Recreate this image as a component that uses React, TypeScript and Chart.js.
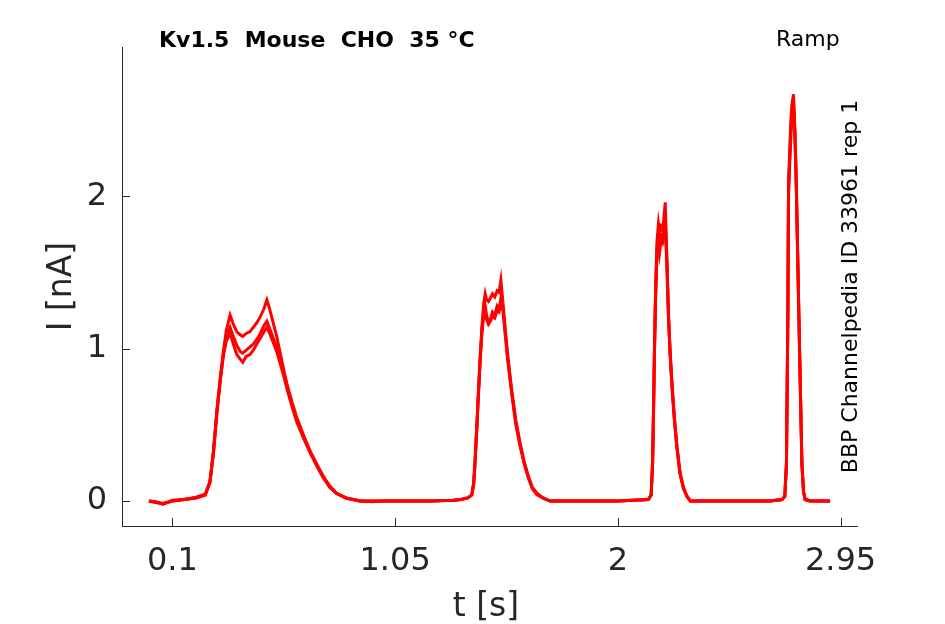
import React, { useEffect, useRef } from "react";
import { Chart, registerables } from "chart.js";

Chart.register(...registerables);

// time in seconds (shared by all sweeps)
const time = [
  0, 0.03, 0.06, 0.1, 0.15, 0.2, 0.24, 0.26, 0.275, 0.29, 0.305, 0.318, 0.33, 0.346, 0.36, 0.375, 0.39, 0.4,
  0.415, 0.43, 0.445, 0.46, 0.475, 0.49, 0.503, 0.515, 0.53, 0.545, 0.56, 0.575, 0.59, 0.61, 0.63, 0.66, 0.69,
  0.72, 0.745, 0.77, 0.8, 0.84, 0.9, 0.95, 1.0, 1.1, 1.2, 1.3, 1.33, 1.36, 1.377, 1.385, 1.391, 1.398, 1.405,
  1.413, 1.42, 1.428, 1.434, 1.44, 1.448, 1.456, 1.465, 1.475, 1.485, 1.493, 1.501, 1.51, 1.519, 1.53, 1.548,
  1.565, 1.583, 1.6, 1.619, 1.635, 1.655, 1.68, 1.711, 1.75, 1.8, 1.9, 2.0, 2.13, 2.142, 2.148, 2.152, 2.156,
  2.161, 2.167, 2.173, 2.178, 2.184, 2.19, 2.196, 2.202, 2.209, 2.216, 2.223, 2.23, 2.241, 2.252, 2.265, 2.28,
  2.295, 2.309, 2.35, 2.42, 2.5, 2.58, 2.65, 2.7, 2.712, 2.719, 2.725, 2.728, 2.738, 2.742, 2.749, 2.755,
  2.761, 2.772, 2.785, 2.792, 2.799, 2.82, 2.85, 2.88, 2.905,
];

// current in nA, three sweeps
const sweepA = [
  0, -0.01, -0.02, 0, 0.01, 0.025, 0.045, 0.13, 0.33, 0.6, 0.82, 0.99, 1.12, 1.22, 1.16, 1.11, 1.09, 1.08,
  1.1, 1.11, 1.14, 1.17, 1.21, 1.26, 1.32, 1.26, 1.17, 1.08, 0.97, 0.86, 0.76, 0.65, 0.55, 0.43, 0.32,
  0.23, 0.16, 0.1, 0.05, 0.02, 0, -0.005, 0, 0, 0, 0.005, 0.01, 0.02, 0.04, 0.12, 0.27, 0.48, 0.71,
  0.95, 1.14, 1.3, 1.36, 1.32, 1.31, 1.33, 1.36, 1.34, 1.38, 1.37, 1.45, 1.3, 1.14, 0.96, 0.72,
  0.53, 0.38, 0.26, 0.16, 0.09, 0.05, 0.02, 0, 0, 0, 0, 0, 0.01, 0.04, 0.25, 0.6, 1.01,
  1.4, 1.71, 1.82, 1.76, 1.8, 1.78, 1.85, 1.96, 1.6, 1.23, 0.98, 0.79, 0.55, 0.36, 0.19, 0.09,
  0.03, 0, 0, 0, 0, 0, 0, 0.01, 0.03, 0.25, 1.23, 2.1, 2.5, 2.6, 2.67, 2.45,
  2.1, 1.23, 0.25, 0.06, 0.01, 0, 0, 0, 0,
];

const sweepB = [
  0, -0.01, -0.015, 0, 0.01, 0.02, 0.04, 0.12, 0.32, 0.59, 0.81, 0.97, 1.08, 1.14, 1.08, 1.02, 0.98, 0.97,
  0.99, 1.01, 1.03, 1.06, 1.1, 1.15, 1.18, 1.13, 1.07, 1.01, 0.93, 0.84, 0.74, 0.63, 0.53, 0.42, 0.31,
  0.22, 0.15, 0.1, 0.05, 0.02, 0, 0, 0, 0, 0, 0.005, 0.01, 0.02, 0.04, 0.11, 0.26, 0.47, 0.7,
  0.94, 1.12, 1.25, 1.28, 1.22, 1.17, 1.19, 1.24, 1.22, 1.28, 1.26, 1.33, 1.27, 1.12, 0.94, 0.7,
  0.51, 0.37, 0.25, 0.15, 0.09, 0.05, 0.02, 0, 0, 0, 0, 0, 0.01, 0.04, 0.24, 0.58, 0.98,
  1.36, 1.66, 1.76, 1.68, 1.74, 1.72, 1.78, 1.85, 1.57, 1.21, 0.97, 0.78, 0.54, 0.35, 0.18, 0.08,
  0.03, 0, 0, 0, 0, 0, 0, 0.01, 0.03, 0.24, 1.2, 2.05, 2.45, 2.55, 2.62, 2.42,
  2.08, 1.22, 0.24, 0.06, 0.01, 0, 0, 0, 0,
];

const sweepC = [
  0, -0.005, -0.02, 0.005, 0.01, 0.02, 0.04, 0.12, 0.31, 0.58, 0.8, 0.96, 1.05, 1.1, 1.03, 0.96, 0.93, 0.91,
  0.95, 0.96, 0.99, 1.03, 1.07, 1.11, 1.14, 1.1, 1.04, 0.98, 0.9, 0.82, 0.73, 0.62, 0.52, 0.41, 0.31,
  0.22, 0.15, 0.09, 0.05, 0.02, 0, 0, 0, 0, 0, 0.005, 0.01, 0.02, 0.04, 0.11, 0.25, 0.46, 0.69,
  0.93, 1.1, 1.22, 1.25, 1.19, 1.16, 1.18, 1.21, 1.2, 1.25, 1.24, 1.3, 1.25, 1.1, 0.93, 0.7,
  0.5, 0.36, 0.25, 0.15, 0.08, 0.04, 0.02, 0, 0, 0, 0, 0, 0.01, 0.04, 0.24, 0.57, 0.96,
  1.33, 1.63, 1.72, 1.63, 1.7, 1.69, 1.75, 1.82, 1.55, 1.2, 0.96, 0.77, 0.53, 0.35, 0.18, 0.08,
  0.03, 0, 0, 0, 0, 0, 0, 0.01, 0.03, 0.23, 1.18, 2.02, 2.4, 2.5, 2.58, 2.4,
  2.06, 1.21, 0.24, 0.06, 0.01, 0, 0, 0, 0,
];

const xTicks = [0.1, 1.05, 2, 2.95];
const yTicks = [0, 1, 2];
const xRange = [-0.115, 3.02];
const yRange = [-0.164, 2.98];

const titleText = "Kv1.5  Mouse  CHO  35 °C";
const protocolText = "Ramp";
const sideText = "BBP Channelpedia ID 33961 rep 1";
const xLabel = "t [s]";
const yLabel = "I [nA]";

const FONT = "'DejaVu Sans', sans-serif";
const AXIS_COLOR = "#262626";

const overlayPlugin = {
  id: "overlay",
  afterDraw(chart: any) {
    const ctx = chart.ctx as CanvasRenderingContext2D;
    const area = chart.chartArea;
    const xs = chart.scales.x;
    const ys = chart.scales.y;
    ctx.save();
    // inward tick marks
    ctx.strokeStyle = AXIS_COLOR;
    ctx.lineWidth = 1;
    ctx.beginPath();
    xTicks.forEach((v) => {
      const px = Math.round(xs.getPixelForValue(v)) + 0.5;
      ctx.moveTo(px, area.bottom);
      ctx.lineTo(px, area.bottom - 8);
    });
    yTicks.forEach((v) => {
      const py = Math.round(ys.getPixelForValue(v)) + 0.5;
      ctx.moveTo(area.left, py);
      ctx.lineTo(area.left + 8, py);
    });
    ctx.stroke();

    // axis titles
    ctx.fillStyle = AXIS_COLOR;
    ctx.font = `33px ${FONT}`;
    ctx.textAlign = "center";
    ctx.textBaseline = "alphabetic";
    ctx.fillText(xLabel, 486, 616);
    ctx.save();
    ctx.translate(71, (area.top + area.bottom) / 2);
    ctx.rotate(-Math.PI / 2);
    ctx.fillText(yLabel, 0, 0);
    ctx.restore();

    // title + protocol
    ctx.fillStyle = "#000000";
    ctx.textAlign = "left";
    ctx.font = `bold 22px ${FONT}`;
    ctx.fillText(titleText.replace(/ /g, "\u00a0"), 159, 47);
    ctx.font = `22px ${FONT}`;
    ctx.fillText(protocolText, 776, 46);

    // side label
    ctx.save();
    ctx.translate(857, (area.top + area.bottom) / 2);
    ctx.rotate(-Math.PI / 2);
    ctx.textAlign = "center";
    ctx.fillText(sideText, 0, 0);
    ctx.restore();

    ctx.restore();
  },
};

export default function App() {
  const ref = useRef<HTMLCanvasElement | null>(null);
  useEffect(() => {
    if (!ref.current) return;
    const mk = (vals: number[]) => ({
      data: time.map((t, i) => ({ x: t, y: vals[i] })),
      borderColor: "#ff0000",
      backgroundColor: "#ff0000",
      borderWidth: 3,
      pointRadius: 0,
      tension: 0,
      fill: false,
    });
    const chart = new Chart(ref.current, {
      type: "line",
      data: { datasets: [mk(sweepC), mk(sweepB), mk(sweepA)] },
      options: {
        animation: false,
        responsive: false,
        maintainAspectRatio: false,
        devicePixelRatio: 1,
        layout: { padding: { top: 47, right: 88, left: 0, bottom: 0 } },
        plugins: { legend: { display: false }, tooltip: { enabled: false }, title: { display: false } },
        scales: {
          x: {
            type: "linear",
            min: xRange[0],
            max: xRange[1],
            afterBuildTicks: (s: any) => {
              s.ticks = xTicks.map((v) => ({ value: v }));
            },
            afterFit: (s: any) => {
              s.height = 98;
            },
            ticks: {
              autoSkip: false,
              maxRotation: 0,
              padding: 16,
              color: AXIS_COLOR,
              font: { family: FONT, size: 32 },
              callback: (v: any) => String(v),
            },
            grid: { drawOnChartArea: false, drawTicks: false },
            border: { display: true, color: AXIS_COLOR, width: 1 },
          },
          y: {
            type: "linear",
            min: yRange[0],
            max: yRange[1],
            afterBuildTicks: (s: any) => {
              s.ticks = yTicks.map((v) => ({ value: v }));
            },
            afterFit: (s: any) => {
              s.width = 122;
            },
            ticks: {
              padding: 15,
              color: AXIS_COLOR,
              font: { family: FONT, size: 32 },
              callback: (v: any) => String(v),
            },
            grid: { drawOnChartArea: false, drawTicks: false },
            border: { display: true, color: AXIS_COLOR, width: 1 },
          },
        },
      },
      plugins: [overlayPlugin],
    });
    return () => chart.destroy();
  }, []);
  return (
    <div style={{ position: "fixed", left: 0, top: 0, width: 945, height: 624, background: "#fff" }}>
      <canvas ref={ref} width={945} height={624} style={{ width: 945, height: 624 }} />
    </div>
  );
}
